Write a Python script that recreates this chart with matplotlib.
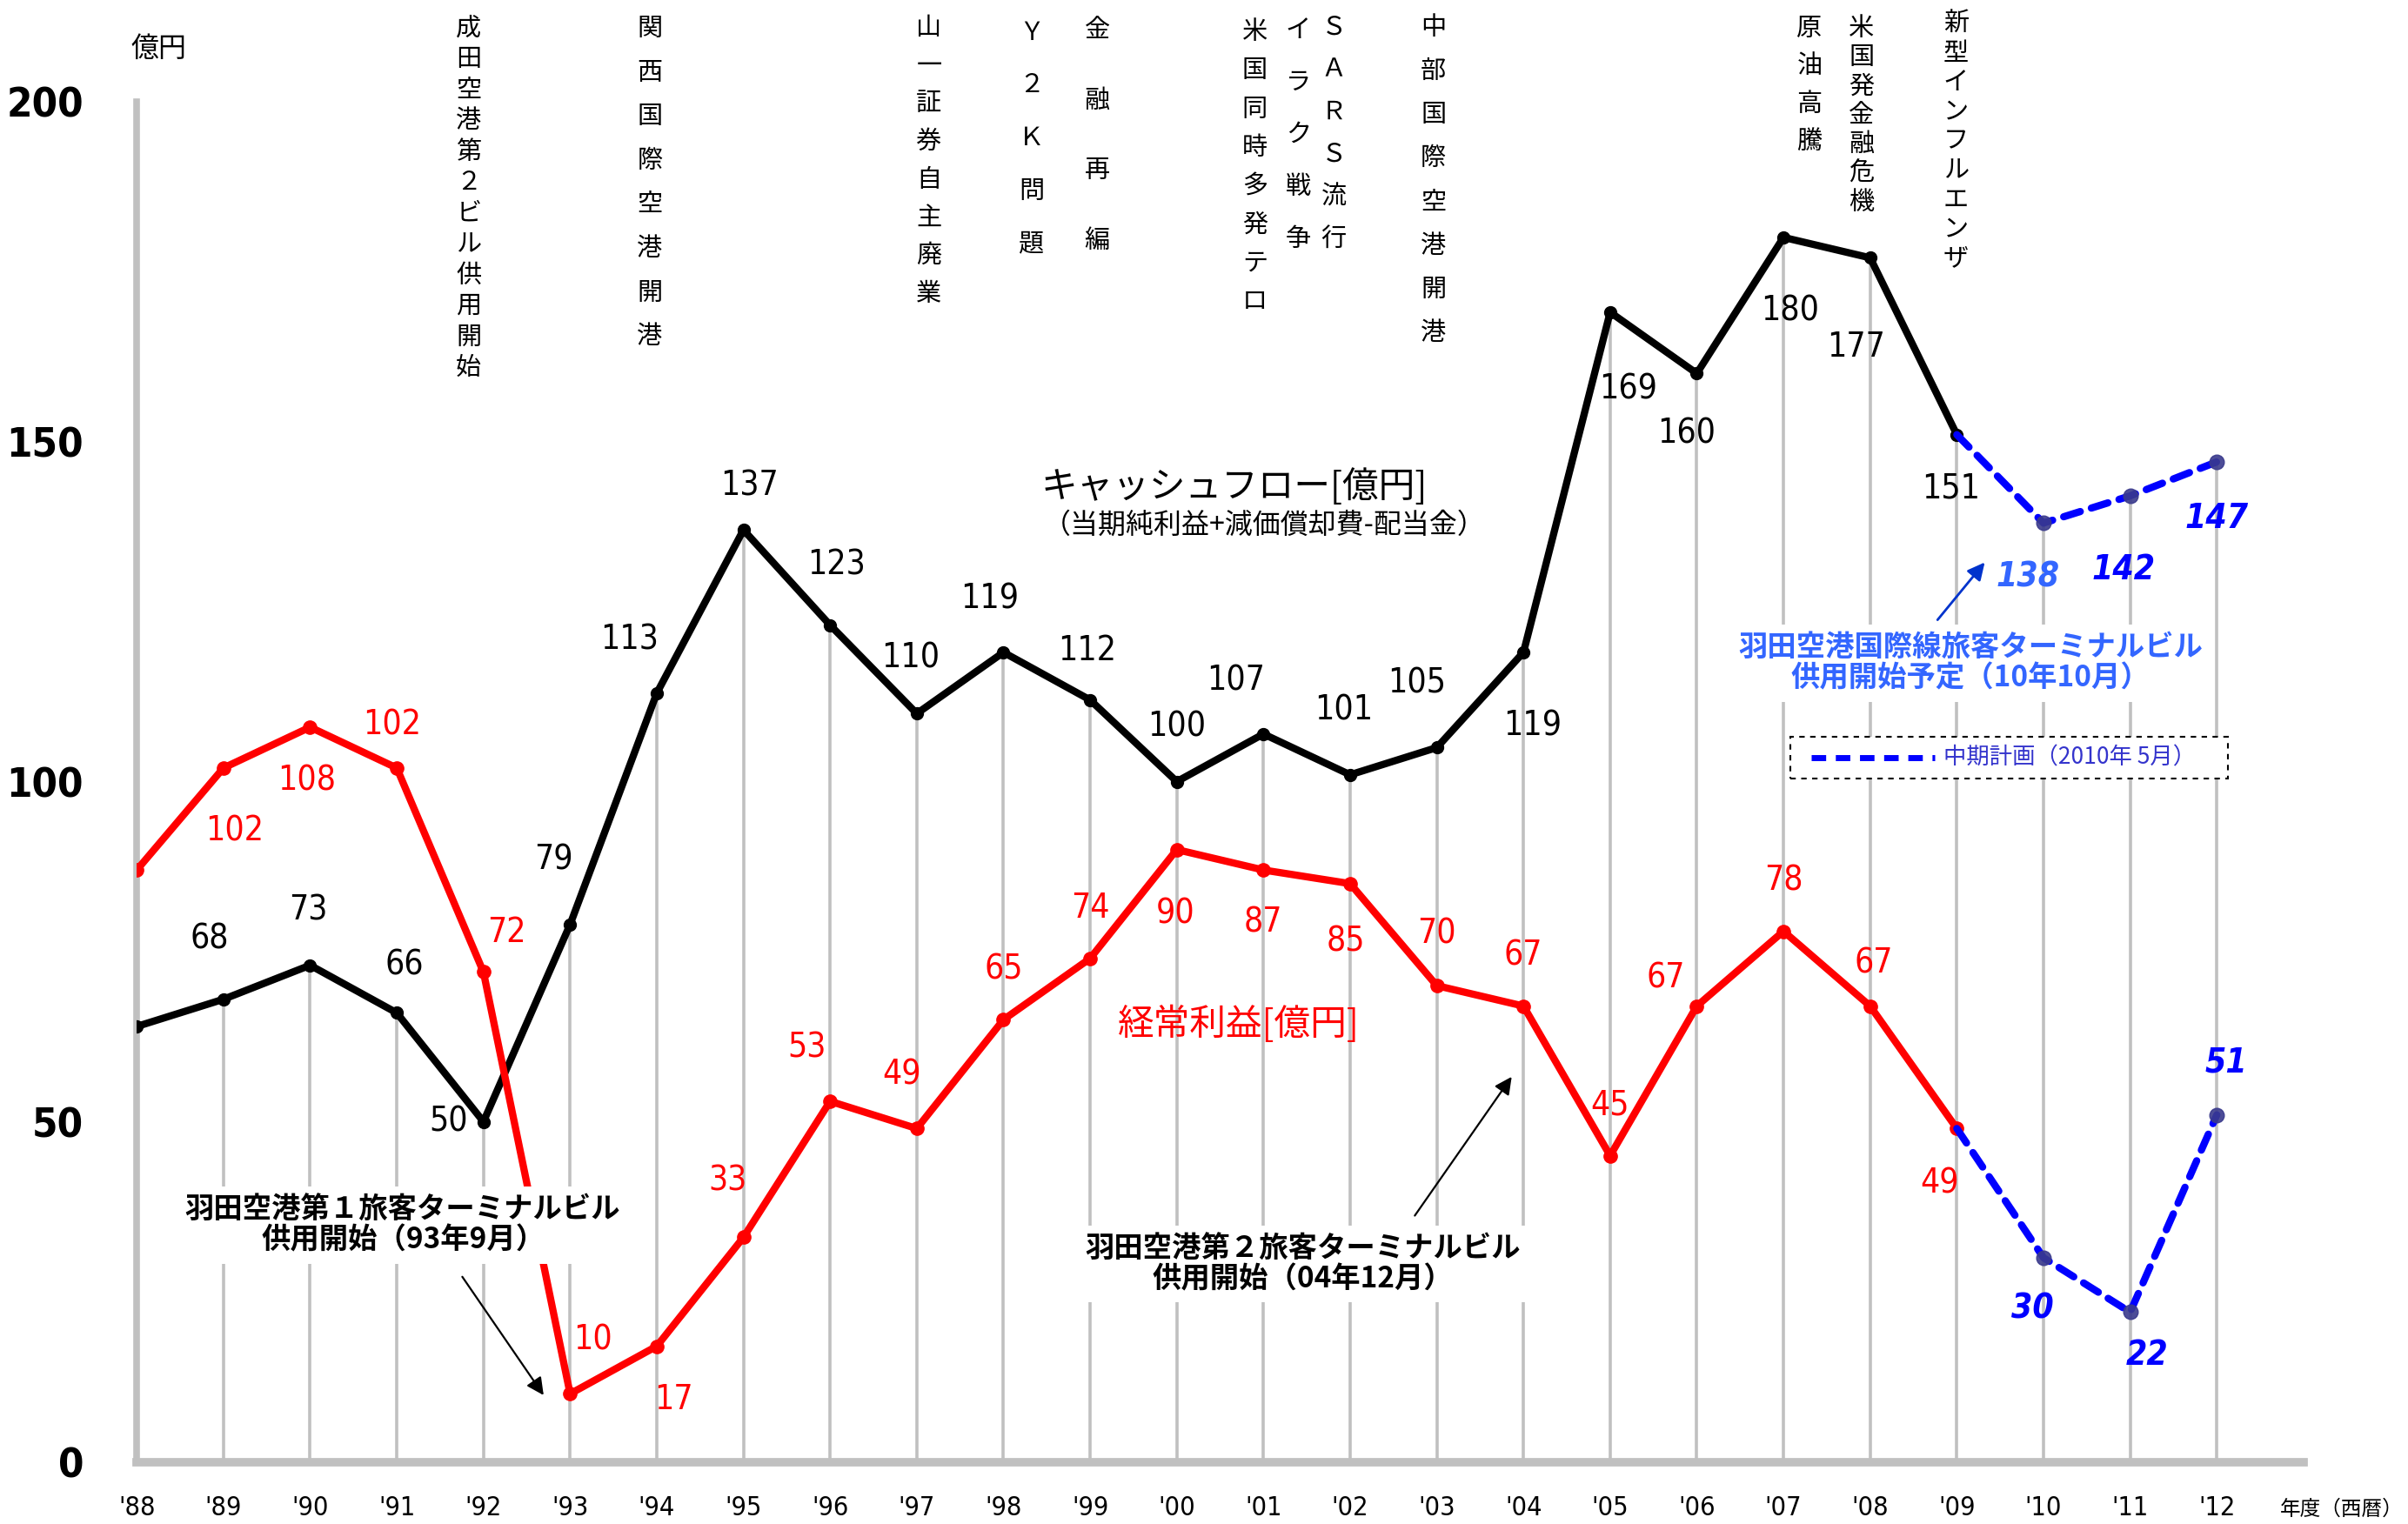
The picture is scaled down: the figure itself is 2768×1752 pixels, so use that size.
import matplotlib
matplotlib.use('Agg')
import matplotlib.pyplot as plt
import matplotlib.transforms as mtrans
from matplotlib import font_manager as fm
from matplotlib.patches import Rectangle
from matplotlib.lines import Line2D

# fiscal years '88 - '12
years = ["'88", "'89", "'90", "'91", "'92", "'93", "'94", "'95", "'96", "'97",
         "'98", "'99", "'00", "'01", "'02", "'03", "'04", "'05", "'06", "'07",
         "'08", "'09", "'10", "'11", "'12"]

# cash flow (actual '88-'09, plan '09-'12)
cash_flow = [64, 68, 73, 66, 50, 79, 113, 137, 123, 110, 119, 112, 100, 107,
             101, 105, 119, 169, 160, 180, 177, 151]
cash_flow_plan = [151, 138, 142, 147]

# ordinary profit (actual '88-'09, plan '09-'12)
ordinary = [87, 102, 108, 102, 72, 10, 17, 33, 53, 49, 65, 74, 90, 87, 85, 70,
            67, 45, 67, 78, 67, 49]
ordinary_plan = [49, 30, 22, 51]

events = ['成田空港第２ビル供用開始', '関西国際空港開港', '山一証券自主廃業',
          'Ｙ２Ｋ問題', '金融再編', '米国同時多発テロ', 'イラク戦争', 'ＳＡＲＳ流行',
          '中部国際空港開港', '原油高騰', '米国発金融危機', '新型インフルエンザ']
event_x = [3.83, 5.92, 9.14, 10.32, 11.08, 12.9, 13.4, 13.81, 14.96, 19.3, 19.9, 20.99]
# first / last character centre, pixels from the top of the figure
event_top = [33, 33, 32, 38, 35, 37, 35, 32, 32, 33, 33, 28]
event_end = [423, 387, 338, 280, 277, 347, 275, 275, 383, 163, 233, 297]

# label offsets (points) for each value label
cf_off = [None, (-9, 39), (-1, 36), (5, 31), (-23, 0), (-11, 42), (-18, 35), (4, 29),
          (4, 39), (-4, 36), (-9, 35), (-2, 32), (0, 36), (-18, 35), (-4, 42),
          (-13, 42), (6, -48), (12, -50), (-7, -39), (4, -48), (-9, -58), (-4, -35)]
cf_plan_off = [None, (-10, -35), (-4, -48), (0, -37)]
op_off = [None, (7, -41), (-2, -35), (-3, 28), (15, 26), (15, 35), (11, -35), (-10, 37),
          (-15, 35), (-10, 35), (0, 33), (0, 33), (-1, -42), (0, -34), (-3, -38),
          (0, 34), (0, 33), (0, 33), (-20, 18), (0, 33), (2, 28), (-11, -36)]
op_plan_off = [None, (-7, -33), (11, -28), (6, 34)]

JP = ['Noto Sans CJK JP', 'DejaVu Sans']
GRAY = '#c0c0c0'
PLAN_BLUE = '#0000ff'
MARK_BLUE = '#3a3a8c'
W, H = 2768, 1752


def narrow_font(bold=False, italic=False):
    """pick a narrow/condensed face for the numbers, falling back to Roboto"""
    found = []
    for f in fm.fontManager.ttflist:
        tag = f.name + ' ' + f.fname
        if not ('Narrow' in tag or 'Condensed' in tag or
                f.stretch in ('condensed', 'semi-condensed', 'extra-condensed')):
            continue
        w = f.weight if isinstance(f.weight, int) else fm.weight_dict.get(f.weight, 400)
        if (w >= 600) != bold:
            continue
        if (f.style in ('italic', 'oblique')) != italic:
            continue
        rank = 0 if 'Liberation' in f.name else 1
        found.append((rank, f.fname))
    if found:
        return sorted(found)[0][1]
    return fm.findfont(fm.FontProperties(family='Roboto',
                                         weight='bold' if bold else 'normal',
                                         style='italic' if italic else 'normal'))


F_REG = narrow_font()
F_BOLD = narrow_font(bold=True)
F_BI = narrow_font(bold=True, italic=True)


def fp(path, size):
    return fm.FontProperties(fname=path, size=size)


fig = plt.figure(figsize=(W / 100, H / 100), dpi=100)
ax = fig.add_axes([0.0568, 0.0408, 0.8998, 0.8927])
ax.set_xlim(0, 25)
ax.set_ylim(0, 200)

x_act = list(range(len(cash_flow)))
x_plan = list(range(len(cash_flow) - 1, len(cash_flow) - 1 + len(cash_flow_plan)))

# drop lines up to the cash flow value
drop = cash_flow + cash_flow_plan[1:]
ax.vlines(range(len(drop)), 0, drop, color=GRAY, lw=2.6, zorder=1)

ax.plot(x_act, cash_flow, color='black', lw=6, marker='o', ms=10, zorder=3,
        solid_joinstyle='round')
ax.plot(x_act, ordinary, color='red', lw=6, marker='o', ms=11, zorder=3,
        solid_joinstyle='round')
ax.plot(x_plan, cash_flow_plan, color=PLAN_BLUE, lw=6, dashes=(2.4, 1.6),
        dash_capstyle='round', zorder=3)
ax.plot(x_plan, ordinary_plan, color=PLAN_BLUE, lw=6, dashes=(2.4, 1.6),
        dash_capstyle='round', zorder=3)
ax.plot(x_plan[1:], cash_flow_plan[1:], ls='none', marker='o', ms=12,
        color=MARK_BLUE, alpha=0.9, zorder=4)
ax.plot(x_plan[1:], ordinary_plan[1:], ls='none', marker='o', ms=12,
        color=MARK_BLUE, alpha=0.9, zorder=4)

K = 1.27
def put_labels(xs, vals, offs, color, font, colors=None):
    for i, (x, v, o) in enumerate(zip(xs, vals, offs)):
        if o is None:
            continue
        c = colors[i] if colors else color
        ax.annotate(str(v), (x, v), xytext=(o[0] * K, o[1] * K),
                    textcoords='offset points', ha='center', va='center',
                    fontproperties=fp(font, 28), color=c, zorder=4)

put_labels(x_act, cash_flow, cf_off, 'black', F_REG)
put_labels(x_act, ordinary, op_off, 'red', F_REG)
put_labels(x_plan, cash_flow_plan, cf_plan_off, PLAN_BLUE, F_BI,
           colors=[None, '#3366ff', PLAN_BLUE, PLAN_BLUE])
put_labels(x_plan, ordinary_plan, op_plan_off, PLAN_BLUE, F_BI)

# axes styling
for s in ['top', 'right']:
    ax.spines[s].set_visible(False)
ax.spines['left'].set_color(GRAY)
ax.spines['left'].set_linewidth(5.5)
ax.spines['bottom'].set_color(GRAY)
ax.spines['bottom'].set_linewidth(7)
ax.spines['left'].set_zorder(2)

ax.set_xticks(range(len(years)))
ax.set_xticklabels(years, fontproperties=fp(F_REG, 22))
ax.set_yticks([0, 50, 100, 150, 200])
ax.set_yticklabels(['0', '50', '100', '150', '200'], fontproperties=fp(F_BOLD, 34))
ax.tick_params(axis='x', length=0, pad=28)
ax.tick_params(axis='y', length=0, pad=44)

fig.text(0.0658, 0.968, '億円', family=JP, fontsize=23, ha='center', va='center')
fig.text(0.9725, 0.0097, '年度（西暦）', family=JP, fontsize=17, ha='center', va='center')

# event labels written top to bottom, one character at a time
trans = mtrans.blended_transform_factory(ax.transData, fig.transFigure)
for name, x, top, end in zip(events, event_x, event_top, event_end):
    step = (end - top) / (len(name) - 1)
    for i, ch in enumerate(name):
        ax.text(x, 1 - (top + i * step) / H, ch, transform=trans, family=JP,
                fontsize=21, ha='center', va='center', clip_on=False)

# series titles
ax.text(12.66, 143.3, 'キャッシュフロー[億円]', family=JP, fontsize=30,
        ha='center', va='center', zorder=5)
ax.text(13.01, 137.7, '（当期純利益+減価償却費-配当金）', family=JP, fontsize=23,
        ha='center', va='center', zorder=5)
ax.text(12.71, 64.3, '経常利益[億円]', family=JP, fontsize=30, color='red',
        ha='center', va='center', zorder=5)

# terminal building notes
box = dict(boxstyle='square,pad=0.3', fc='white', ec='none')
ax.text(3.07, 34.8, '羽田空港第１旅客ターミナルビル\n供用開始（93年9月）', family=JP,
        fontsize=24, fontweight='bold', ha='center', va='center',
        linespacing=1.1, bbox=box, zorder=5)
ax.annotate('', xy=(4.71, 9.5), xytext=(3.74, 27.5),
            arrowprops=dict(arrowstyle='-|>', color='black', lw=1.6,
                            mutation_scale=30), zorder=5)
ax.text(13.45, 29.1, '羽田空港第２旅客ターミナルビル\n供用開始（04年12月）', family=JP,
        fontsize=24, fontweight='bold', ha='center', va='center',
        linespacing=1.1, bbox=box, zorder=5)
ax.annotate('', xy=(15.88, 56.9), xytext=(14.73, 35.9),
            arrowprops=dict(arrowstyle='-|>', color='black', lw=1.6,
                            mutation_scale=30), zorder=5)
ax.text(21.16, 117.4, '羽田空港国際線旅客ターミナルビル\n供用開始予定（10年10月）',
        family=JP, fontsize=24, fontweight='bold', color='#3366ff', ha='center',
        va='center', linespacing=1.1, bbox=box, zorder=5)
ax.annotate('', xy=(21.34, 132.5), xytext=(20.76, 123.5),
            arrowprops=dict(arrowstyle='-|>', color='#0033cc', lw=2,
                            mutation_scale=30), zorder=5)

# plan legend
ax.add_patch(Rectangle((0.763, 0.502), 0.202, 0.031, transform=ax.transAxes,
                       fill=True, fc='white', ec='black', ls=(0, (3, 3)), lw=1.5,
                       zorder=5))
ax.add_line(Line2D([0.773, 0.830], [0.5175, 0.5175], transform=ax.transAxes,
                   color=PLAN_BLUE, lw=5, dashes=(2.4, 1.6), zorder=6))
ax.text(0.834, 0.5175, '中期計画（2010年 5月）', transform=ax.transAxes, family=JP,
        fontsize=19, color='#3333cc', ha='left', va='center', zorder=6)

fig.savefig('out.png', dpi=100, facecolor='white')
